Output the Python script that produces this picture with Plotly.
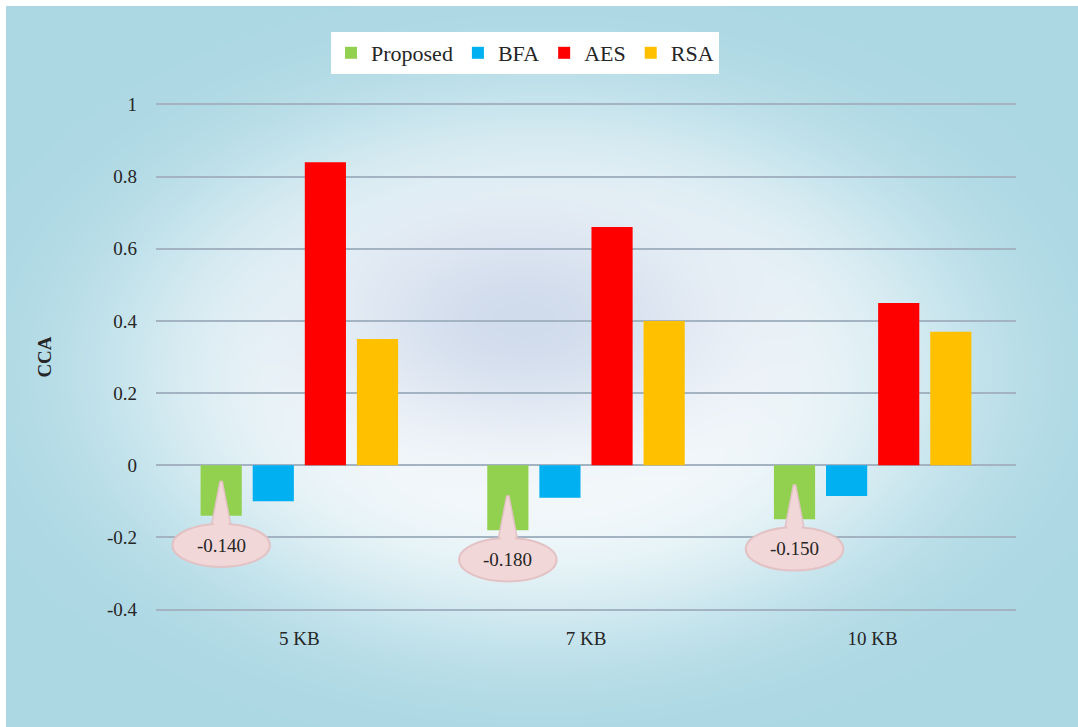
import base64
import struct
import zlib

import numpy as np
import plotly.graph_objects as go

# ---- data -------------------------------------------------------------
categories = ["5 KB", "7 KB", "10 KB"]
series_names = ["Proposed", "BFA", "AES", "RSA"]
proposed = [-0.140, -0.180, -0.150]
bfa = [-0.100, -0.090, -0.085]
aes = [0.84, 0.66, 0.45]
rsa = [0.35, 0.40, 0.37]
y_ticks = [-0.4, -0.2, 0, 0.2, 0.4, 0.6, 0.8, 1]

colors = ["#92D050", "#00B0F0", "#FF0000", "#FFC000"]
series_values = [proposed, bfa, aes, rsa]

W, H = 1078, 727
M_L, M_R, M_T, M_B = 156, 62, 103, 116
BARGAP, GROUPGAP = 0.273, 0.21
FONT = "Liberation Serif"


# ---- background: light blue with a soft white glow ------------------------
def png_data_uri(rgb):
    h, w, _ = rgb.shape
    raw = b"".join(b"\x00" + rgb[r].tobytes() for r in range(h))

    def chunk(tag, data):
        c = struct.pack(">I", len(data)) + tag + data
        return c + struct.pack(">I", zlib.crc32(tag + data) & 0xFFFFFFFF)

    png = b"\x89PNG\r\n\x1a\n"
    png += chunk(b"IHDR", struct.pack(">IIBBBBB", w, h, 8, 2, 0, 0, 0))
    png += chunk(b"IDAT", zlib.compress(raw, 9))
    png += chunk(b"IEND", b"")
    return "data:image/png;base64," + base64.b64encode(png).decode()


def background(w, h):
    yy, xx = np.mgrid[0:h, 0:w].astype(float)
    edge = np.array([172, 216, 228], float)
    white = np.array([251, 253, 254], float)
    core = np.array([194, 208, 230], float)
    d = np.sqrt(((xx - 540) / 520) ** 2 + ((yy - 370) / 330) ** 2)
    glow = np.exp(-((d / 0.80) ** 4))
    img = edge + (white - edge) * glow[..., None]
    dc = np.sqrt(((xx - 525) / 250) ** 2 + ((yy - 320) / 140) ** 2)
    spot = np.exp(-(dc ** 2) * 1.4) * 0.75
    img = img + (core - img) * spot[..., None]
    img[:6, :] = 255
    img[:, :6] = 255
    return np.clip(img, 0, 255).astype(np.uint8)


bg_uri = png_data_uri(background(W, H))

fig = go.Figure()
for name, vals, col in zip(series_names, series_values, colors):
    fig.add_trace(go.Bar(x=categories, y=vals, name=name, marker_color=col,
                         marker_line_width=0))

# ---- callouts on the Proposed bars ----------------------------------------
slot = (1 - BARGAP) / len(series_names)
first_offset = -(1 - BARGAP) / 2 + slot / 2
pink, pink_line = "#F2D7D8", "#E2C2C4"
shapes = []
annotations = []
for i, v in enumerate(proposed):
    xc = i + first_offset
    yc = v - 0.082
    tip = v + 0.095
    ry, rx = 0.060, 0.170
    tail = f"M {xc - 0.04} {yc + 0.03} L {xc - 0.004} {tip} L {xc + 0.004} {tip} L {xc + 0.04} {yc + 0.03} Z"
    shapes.append(dict(type="path", path=tail, xref="x", yref="y",
                       fillcolor=pink, line=dict(color=pink_line, width=1.5),
                       layer="above"))
    shapes.append(dict(type="circle", xref="x", yref="y",
                       x0=xc - rx, x1=xc + rx, y0=yc - ry, y1=yc + ry,
                       fillcolor=pink, line=dict(color=pink_line, width=2),
                       layer="above"))
    inner = f"M {xc - 0.034} {yc + 0.02} L {xc} {tip - 0.01} L {xc + 0.034} {yc + 0.02} Z"
    shapes.append(dict(type="path", path=inner, xref="x", yref="y",
                       fillcolor=pink, line=dict(width=0), layer="above"))
    annotations.append(dict(x=xc, y=yc, xref="x", yref="y", text=f"{v:.3f}",
                            showarrow=False,
                            font=dict(family=FONT, size=19, color="#262626")))

fig.update_layout(
    width=W, height=H,
    margin=dict(l=M_L, r=M_R, t=M_T, b=M_B, autoexpand=False),
    paper_bgcolor="#ACD8E4",
    plot_bgcolor="rgba(0,0,0,0)",
    barmode="group", bargap=BARGAP, bargroupgap=GROUPGAP,
    font=dict(family=FONT, size=19, color="#262626"),
    images=[dict(source=bg_uri, xref="paper", yref="paper",
                 x=-M_L / (W - M_L - M_R), y=1 + M_T / (H - M_T - M_B),
                 sizex=W / (W - M_L - M_R), sizey=H / (H - M_T - M_B),
                 xanchor="left", yanchor="top", sizing="stretch",
                 layer="below")],
    legend=dict(orientation="h", xref="container", yref="container",
                x=525 / W, y=1 - 53 / H, xanchor="center", yanchor="middle",
                bgcolor="white", font=dict(family=FONT, size=22, color="#262626"),
                borderwidth=0, itemwidth=30, tracegroupgap=0),
    shapes=shapes,
    annotations=annotations,
    showlegend=True,
)
fig.update_xaxes(showgrid=False, showline=False, ticks="", zeroline=False,
                 tickfont=dict(family=FONT, size=19, color="#262626"),
                 ticklabelstandoff=14)
fig.update_yaxes(range=[-0.404, 1.004], tickvals=y_ticks,
                 ticktext=[f"{t:g}" for t in y_ticks],
                 showgrid=True, gridcolor="#A3B3C2", gridwidth=1.5,
                 zeroline=True, zerolinecolor="#A3B3C2", zerolinewidth=1.5,
                 showline=False, ticks="", ticklabelstandoff=18,
                 tickfont=dict(family=FONT, size=19, color="#262626"),
                 title=dict(text="<b>CCA</b>", standoff=50,
                            font=dict(family=FONT, size=19, color="#262626")))

fig.write_html("out.html")
